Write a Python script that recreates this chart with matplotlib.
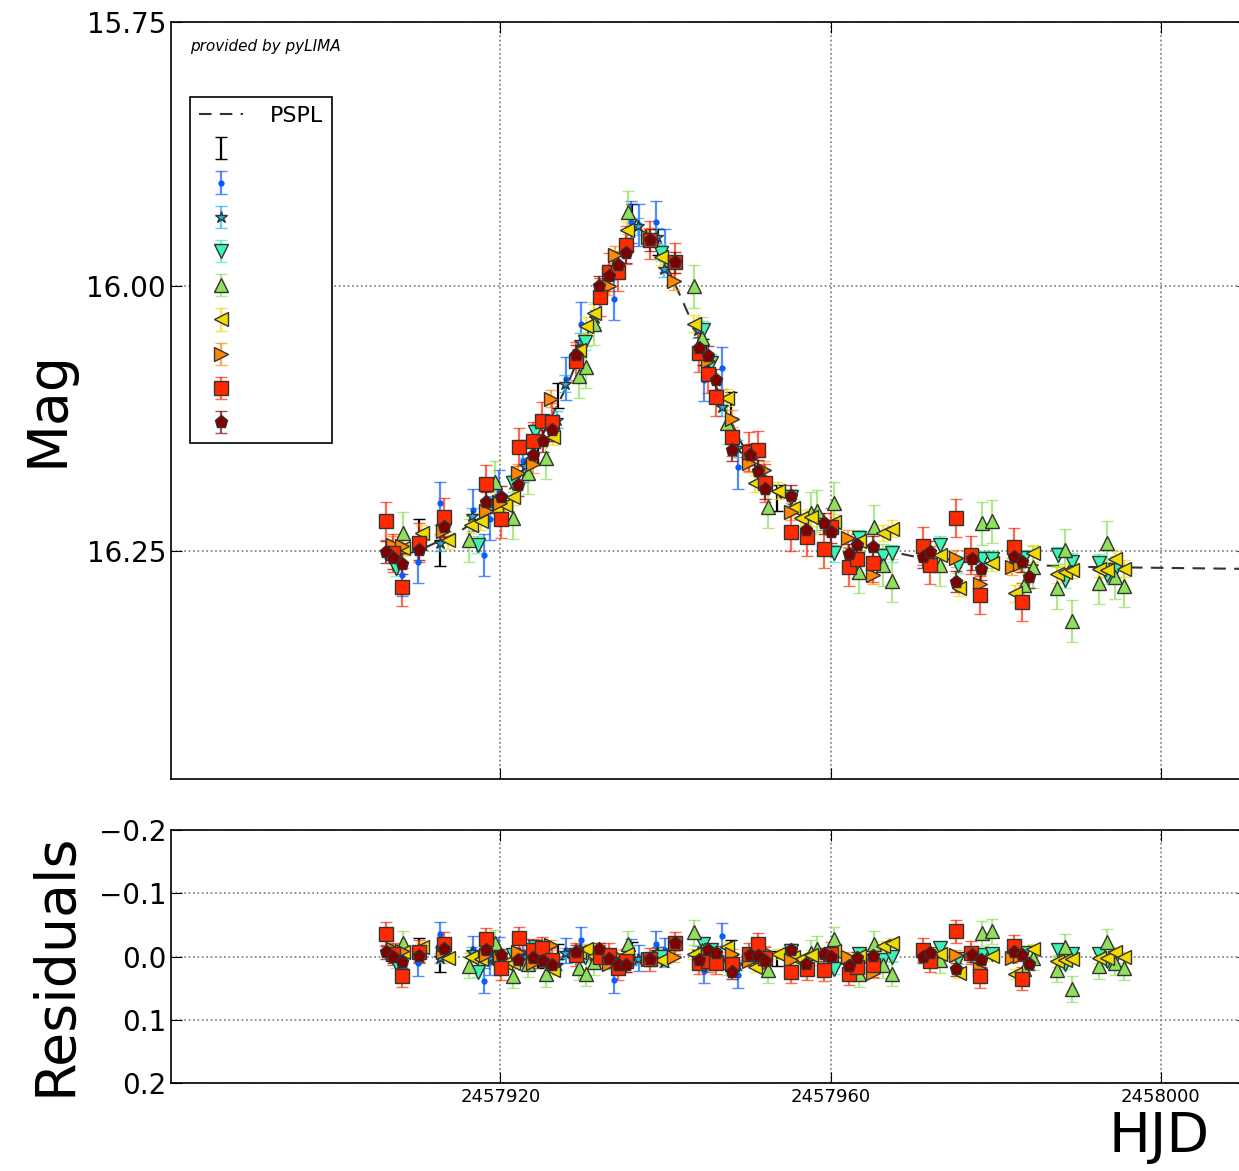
import matplotlib
matplotlib.use("Agg")
import matplotlib.pyplot as plt
import numpy as np
from matplotlib.colors import to_rgba

T0 = 2457900.0

# PSPL model curve
model_t = T0 + np.array([6, 10, 15, 18, 20, 22, 25, 28, 30, 32, 34, 36.5, 39, 41, 43,
                         45, 47, 49, 51, 53, 56, 60, 65, 70, 80, 90, 111])
model_mag = np.array([16.258, 16.250, 16.232, 16.216, 16.202, 16.184, 16.142, 16.095,
                      16.058, 16.012, 15.970, 15.937, 15.960, 15.995, 16.030, 16.072,
                      16.112, 16.145, 16.172, 16.193, 16.213, 16.231, 16.247, 16.255,
                      16.262, 16.265, 16.267])

# telescopes (time offsets from T0, magnitudes)
t_black = [10.1, 12.7, 24.5, 27.0, 35.9, 39.1, 44.5, 47.9, 53.5]
m_black = [16.232, 16.252, 16.155, 16.103, 15.934, 15.958, 16.062, 16.112, 16.200]

t_blue = [8.1, 10.0, 12.7, 16.7, 18.0, 18.7, 19.8, 22.8, 27.9, 29.8, 33.8, 35.8, 36.8,
          38.9, 39.9, 44.7, 46.9, 48.8]
m_blue = [16.273, 16.260, 16.205, 16.211, 16.254, 16.220, 16.193, 16.165, 16.087, 16.035,
          16.012, 15.939, 15.942, 15.939, 15.966, 16.088, 16.077, 16.171]

t_star = [12.7, 16.6, 18.7, 23.0, 26.9, 27.8, 29.7, 31.5, 36.7, 39.0, 39.8, 43.9, 46.8,
          48.7, 51.5]
m_star = [16.242, 16.217, 16.206, 16.170, 16.126, 16.092, 16.052, 16.030, 15.943, 15.953,
          15.983, 16.041, 16.114, 16.153, 16.180]

t_aqua = [7.3, 17.3, 21.5, 24.2, 30.3, 39.4, 44.5, 45.5, 55.2, 60.4, 63.4, 66.4, 67.4,
          73.3, 75.4, 78.4, 79.5, 83.4, 87.5, 88.4, 89.3, 92.5, 93.5, 94.4]
m_aqua = [16.266, 16.244, 16.186, 16.138, 16.052, 15.968, 16.041, 16.072, 16.199, 16.252,
          16.238, 16.255, 16.252, 16.244, 16.263, 16.258, 16.258, 16.257, 16.254, 16.277,
          16.260, 16.261, 16.273, 16.268]

t_green = [8.2, 16.2, 19.4, 21.5, 23.4, 25.5, 29.5, 30.4, 31.4, 35.5, 43.4, 44.4, 47.5,
           52.4, 57.6, 58.4, 60.4, 63.4, 65.2, 66.4, 67.4, 73.2, 78.4, 79.5, 83.4, 84.5,
           87.4, 88.4, 89.3, 92.5, 93.5, 94.4, 95.5]
m_green = [16.233, 16.240, 16.185, 16.219, 16.176, 16.162, 16.085, 16.076, 16.035, 15.930,
           16.000, 16.049, 16.129, 16.208, 16.214, 16.212, 16.205, 16.270, 16.227, 16.263,
           16.278, 16.263, 16.224, 16.222, 16.282, 16.265, 16.285, 16.249, 16.316, 16.280,
           16.242, 16.275, 16.283]

t_yellow = [8.2, 10.5, 13.6, 16.4, 17.6, 19.5, 20.6, 21.5, 26.4, 29.5, 30.4, 31.4, 35.4,
            39.4, 43.4, 47.5, 50.8, 53.6, 55.4, 56.4, 57.6, 60.4, 63.5, 66.4, 67.5, 73.2,
            75.5, 79.5, 82.4, 84.5, 87.4, 88.4, 89.3, 92.5, 93.5, 94.4, 95.5]
m_yellow = [16.247, 16.233, 16.240, 16.225, 16.222, 16.212, 16.207, 16.199, 16.142, 16.060,
            16.037, 16.025, 15.947, 15.972, 16.035, 16.105, 16.186, 16.193, 16.209, 16.219,
            16.218, 16.223, 16.241, 16.233, 16.229, 16.254, 16.285, 16.261, 16.290, 16.252,
            16.272, 16.270, 16.268, 16.267, 16.268, 16.258, 16.267]

t_orange = [7.0, 8.1, 13.1, 18.2, 19.8, 20.0, 22.1, 23.9, 26.1, 33.1, 33.9, 37.9, 41.0,
            45.1, 48.0, 50.1, 51.9, 55.2, 62.1, 65.1, 75.2, 78.1, 82.0, 83.0]
m_orange = [16.244, 16.245, 16.231, 16.212, 16.204, 16.205, 16.176, 16.168, 16.106, 16.000,
            15.970, 15.953, 15.995, 16.070, 16.125, 16.167, 16.173, 16.213, 16.238, 16.273,
            16.257, 16.281, 16.265, 16.262]

t_red = [6.1, 7.0, 8.1, 10.1, 13.2, 18.2, 20.1, 22.2, 24.0, 25.1, 26.2, 29.2, 32.1, 33.1,
         34.2, 35.2, 38.1, 41.2, 44.1, 45.2, 46.1, 48.1, 50.1, 51.2, 52.1, 55.2, 57.1, 59.2,
         60.1, 62.2, 63.2, 65.1, 71.2, 72.1, 75.2, 77.0, 78.1, 82.2, 83.2]
m_red = [16.222, 16.252, 16.284, 16.242, 16.218, 16.187, 16.220, 16.152, 16.146, 16.127,
         16.128, 16.070, 16.010, 15.986, 15.986, 15.961, 15.956, 15.977, 16.063, 16.083,
         16.104, 16.142, 16.156, 16.155, 16.186, 16.232, 16.237, 16.248, 16.227, 16.265,
         16.258, 16.261, 16.245, 16.263, 16.219, 16.254, 16.292, 16.246, 16.298]

t_dred = [6.1, 7.0, 8.1, 10.1, 13.2, 18.2, 20.1, 22.1, 24.0, 25.2, 26.2, 29.2, 32.0, 33.2,
          34.2, 35.2, 38.1, 41.2, 44.1, 45.2, 46.1, 48.1, 50.2, 51.2, 52.1, 55.2, 57.0, 59.2,
          60.1, 62.2, 63.2, 65.1, 71.2, 72.1, 75.2, 77.1, 78.2, 82.2, 83.2, 84.0]
m_dred = [16.251, 16.257, 16.262, 16.249, 16.227, 16.204, 16.199, 16.188, 16.159, 16.146,
          16.136, 16.065, 16.000, 15.990, 15.980, 15.968, 15.956, 15.977, 16.058, 16.066,
          16.088, 16.155, 16.159, 16.174, 16.191, 16.198, 16.230, 16.224, 16.232, 16.253,
          16.244, 16.246, 16.256, 16.251, 16.279, 16.258, 16.267, 16.256, 16.260, 16.275]

# typical error bar per telescope (mag)
errs = [0.012, 0.02, 0.008, 0.008, 0.02, 0.008, 0.008, 0.018, 0.01]

telescopes = [
    (t_black, m_black, '#000000', 'None', 0),
    (t_blue, m_blue, '#0a5cff', '.', 7),
    (t_star, m_star, '#19b3f0', '*', 9),
    (t_aqua, m_aqua, '#3cf5b4', 'v', 10),
    (t_green, m_green, '#8fe05a', '^', 10),
    (t_yellow, m_yellow, '#f2dc00', '<', 10),
    (t_orange, m_orange, '#ff8800', '>', 10),
    (t_red, m_red, '#ff2a00', 's', 9.5),
    (t_dred, m_dred, '#800000', 'p', 9.5),
]

fig = plt.figure(figsize=(12.39, 11.71), dpi=100)
ax = fig.add_axes([0.138, 0.3348, 0.8695, 0.6464])
axr = fig.add_axes([0.138, 0.0751, 0.8695, 0.2161])

ax.plot(model_t, model_mag, ls='--', color='#333333', lw=1.5, dashes=(6, 4),
        label='PSPL', zorder=1)

for (tt, mm, col, mk, ms), err in zip(telescopes, errs):
    tt = T0 + np.array(tt)
    mm = np.array(mm)
    res = mm - np.interp(tt, model_t, model_mag)
    ecol = to_rgba(col, 0.7) if col != '#000000' else col
    mec = col if mk == '.' else '#333333'
    kw = dict(fmt=mk, color=col, ecolor=ecol, ms=ms, mec=mec, mew=1,
              capsize=4, elinewidth=1.6, capthick=1.6, zorder=2)
    ax.errorbar(tt, mm, yerr=err, label=' ', **kw)
    axr.errorbar(tt, res, yerr=err, **kw)

xlim = (2457880.1, 2458010.6)
ax.set_xlim(xlim)
axr.set_xlim(xlim)
ax.set_ylim(16.4655, 15.75)
axr.set_ylim(0.2, -0.2)

ax.set_yticks([15.75, 16.00, 16.25])
ax.set_yticklabels(['15.75', '16.00', '16.25'])
ax.set_xticks([2457920, 2457960, 2458000])
ax.set_xticklabels([])
axr.set_xticks([2457920, 2457960, 2458000])
axr.set_xticklabels(['2457920', '2457960', '2458000'])
axr.set_yticks([-0.2, -0.1, 0.0, 0.1, 0.2])

for a in (ax, axr):
    a.grid(True, ls=':', color='#777777', lw=1.2)
    a.tick_params(direction='in', length=8, top=True, right=True, labelsize=20)
    for s in a.spines.values():
        s.set_linewidth(1.2)
axr.tick_params(axis='x', labelsize=13)

ax.text(0.018, 0.967, 'provided by pyLIMA', transform=ax.transAxes, fontsize=11,
        style='italic', ha='left', va='center')

leg = ax.legend(loc='upper left', bbox_to_anchor=(0.0178, 0.901), borderaxespad=0,
                fontsize=16, numpoints=1, fancybox=False, framealpha=1,
                handlelength=2.0, handletextpad=1.2, labelspacing=0.64)
leg.get_frame().set_edgecolor('black')
leg.get_frame().set_linewidth(1.2)

fig.text(47 / 1239, 1 - 409 / 1171, 'Mag', rotation=90, fontsize=40,
         ha='center', va='center')
fig.text(55 / 1239, 1 - 964 / 1171, 'Residuals', rotation=90, fontsize=40,
         ha='center', va='center')
fig.text(1159 / 1239, 1 - 1137 / 1171, 'HJD', fontsize=40, ha='center', va='center')

fig.savefig('out.png', dpi=100)
